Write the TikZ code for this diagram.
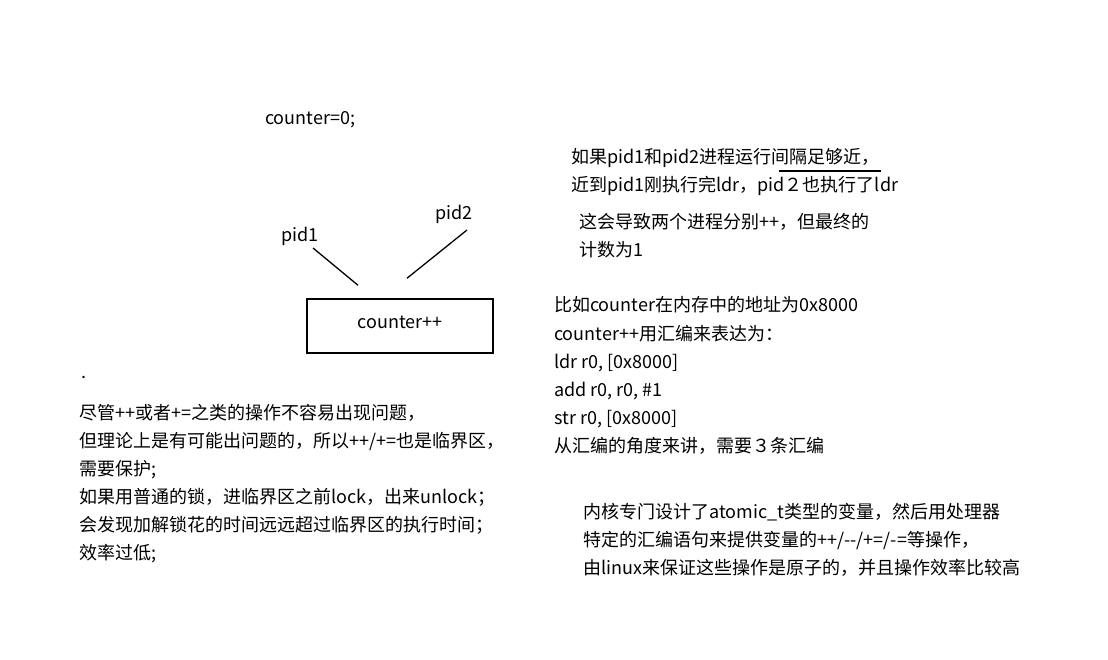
\documentclass[tikz,border=0pt]{standalone}
\usepackage{fontspec}
\setmainfont{Noto Sans CJK SC}
\begin{document}
\begin{tikzpicture}[x=1pt,y=-1pt,
	txt/.style={anchor=base west,inner sep=0pt,font=\fontsize{18}{28}\selectfont},
	strich/.style={line width=1.3pt}]
		% Hintergrund
		\fill[white] (0,0) rectangle (1108,660);
		\useasboundingbox (0,0) rectangle (1108,660);
		
		% Zaehler und Prozesse
		\node[txt] (cnt) at (265,125) {counter=0;};
		\node[txt] (pida) at (281,242) {pid1};
		\node[txt] (pidb) at (435,220) {pid2};
		\node[draw,line width=1.5pt,minimum width=186pt,minimum height=54pt,
			text height=13pt,text depth=9pt,
			font=\fontsize{18}{28}\selectfont] (inc) at (400,326) {counter++};
		
		\coordinate (pa) at (313,248);
		\coordinate (pb) at (467,230);
		\draw[strich] (pa) -- ([xshift=-42pt,yshift=13pt]inc.north);
		\draw[strich] (pb) -- ([xshift=7pt,yshift=20pt]inc.north);
		
		% kleiner Punkt
		\node[txt] (pkt) at (81,378) {.};
		
		% linker Text
		\foreach \t [count=\i from 0] in {{尽管++或者+=之类的操作不容易出现问题，},
			{但理论上是有可能出问题的，所以++/+=也是临界区，},
			{需要保护;},
			{如果用普通的锁，进临界区之前lock，出来unlock；},
			{会发现加解锁花的时间远远超过临界区的执行时间；},
			{效率过低;}}
			\node[txt] (la\i) at (79,419+28*\i) {\t};
		
		% rechts oben
		\node[txt] (ra0) at (571,164) {如果pid1和pid2进程运行间隔足够近，};
		\node[txt] (ra1) at (571,192) {近到pid1刚执行完ldr，pid２也执行了ldr};
		\node[txt] (ra2) at (579,229) {这会导致两个进程分别++，但最终的};
		\node[txt] (ra3) at (579,257) {计数为1};
		\coordinate (ua) at (779,171);
		\coordinate (ub) at (881,171);
		\draw[strich] (ua) -- (ub);
		
		% Assembler
		\foreach \t [count=\i from 0] in {{比如counter在内存中的地址为0x8000},
			{counter++用汇编来表达为：},
			{ldr r0, [0x8000]},
			{add r0, r0, \#1},
			{str r0, [0x8000]},
			{从汇编的角度来讲，需要３条汇编}}
			\node[txt] (rb\i) at (554,312+28*\i) {\t};
		
		% atomic_t
		\foreach \t [count=\i from 0] in {{内核专门设计了atomic\_t类型的变量，然后用处理器},
			{特定的汇编语句来提供变量的++/-{}-/+=/-=等操作，},
			{由linux来保证这些操作是原子的，并且操作效率比较高}}
			\node[txt] (rc\i) at (583,518+28*\i) {\t};
		
	\end{tikzpicture}
\end{document}
